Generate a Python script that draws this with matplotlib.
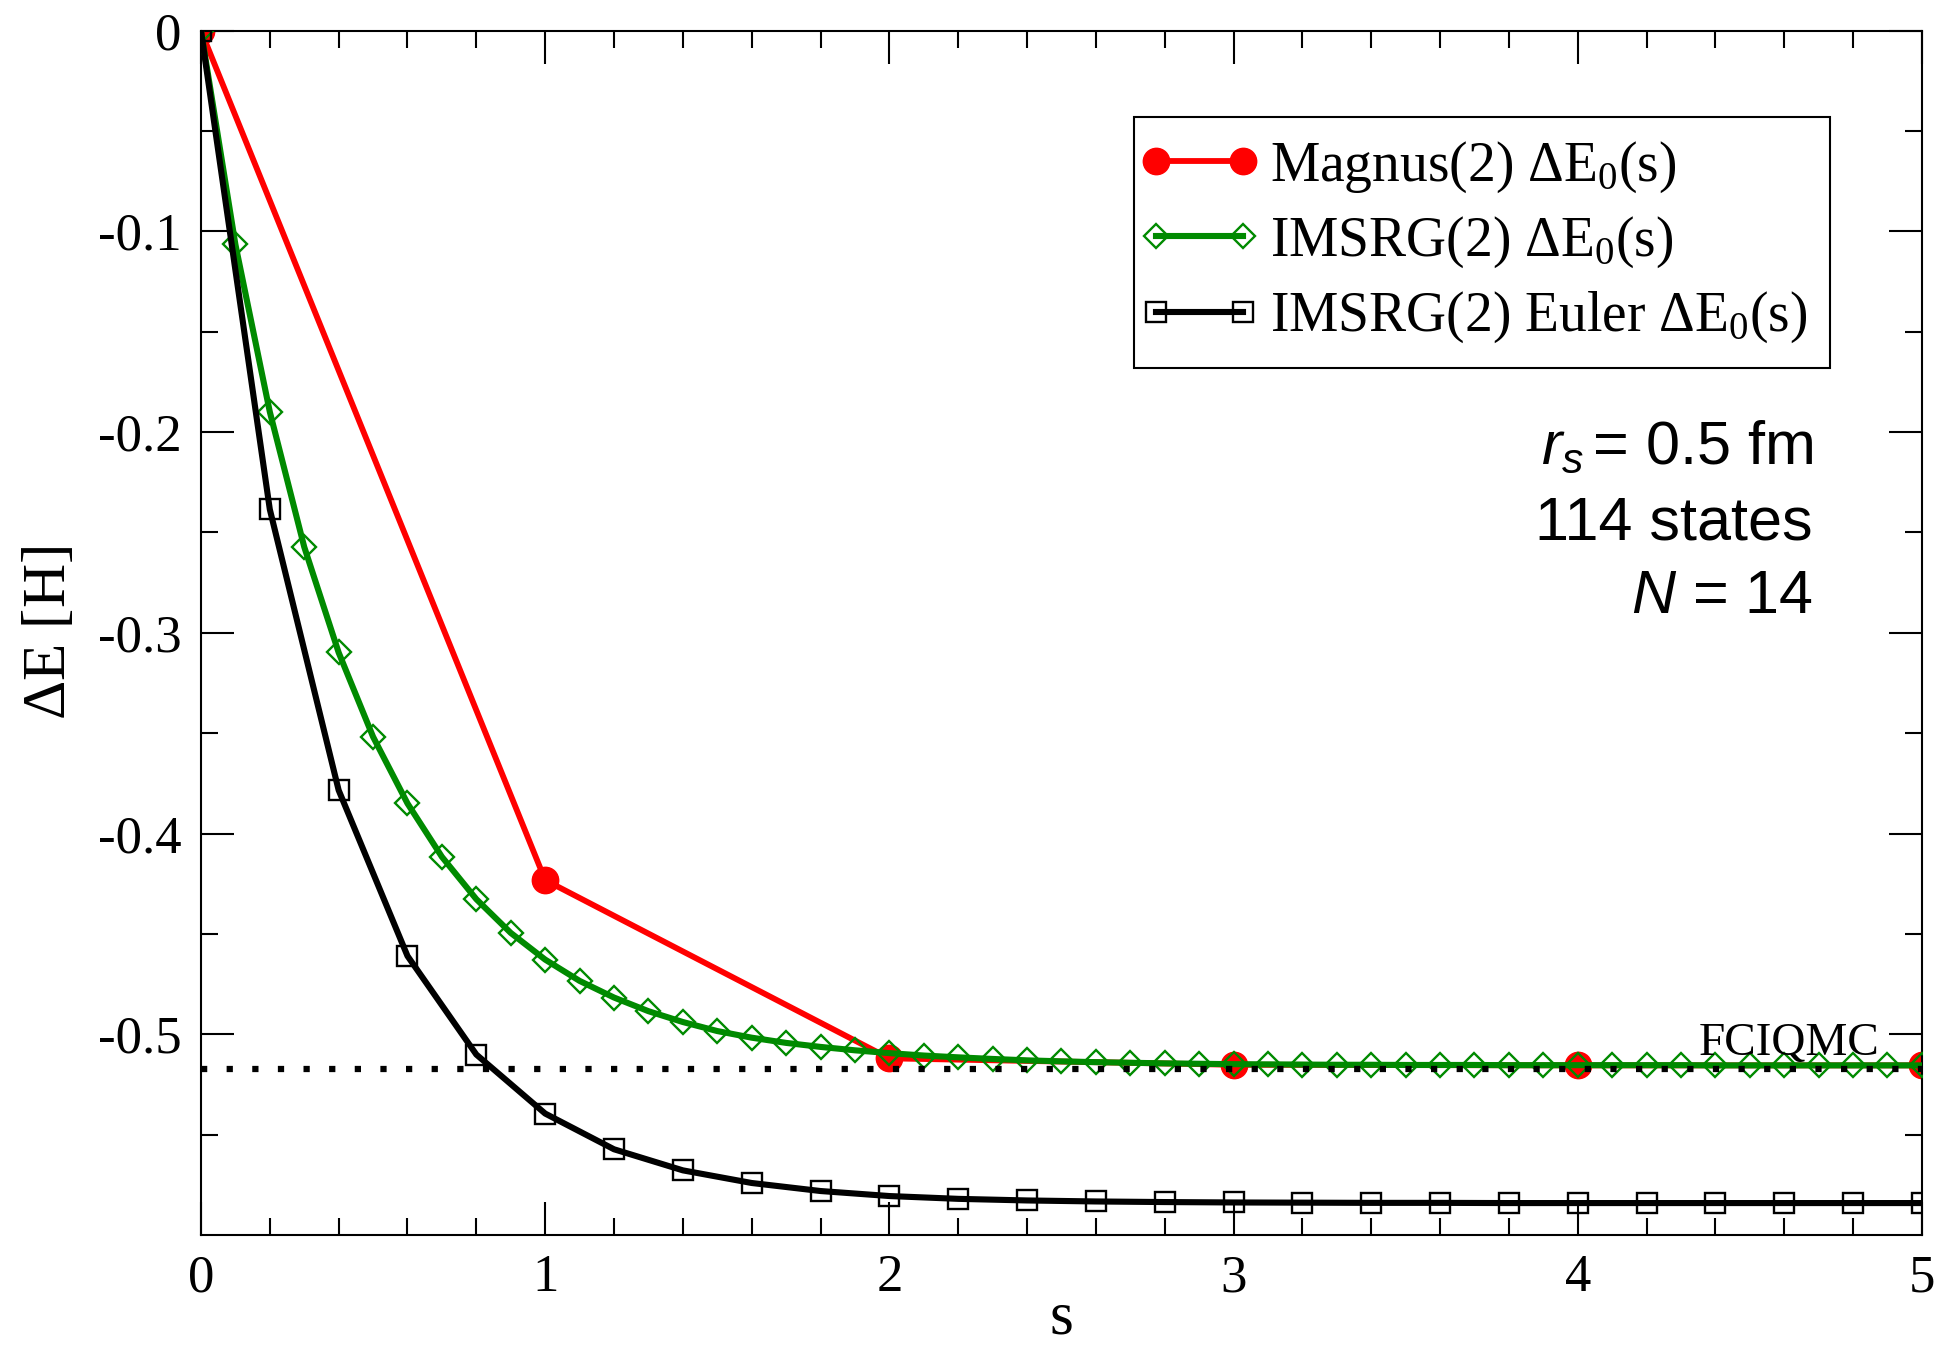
import numpy as np
import matplotlib
matplotlib.use('Agg')
import matplotlib.pyplot as plt
from matplotlib.lines import Line2D
from matplotlib.legend_handler import HandlerLine2D
from matplotlib.ticker import MultipleLocator, FixedLocator, FuncFormatter

plt.rcParams['font.family'] = 'Liberation Serif'
plt.rcParams['mathtext.fontset'] = 'custom'
plt.rcParams['mathtext.rm'] = 'Liberation Serif'
plt.rcParams['mathtext.it'] = 'Liberation Sans:italic'
plt.rcParams['axes.unicode_minus'] = False

# Magnus(2) flow, evaluated at integer s
s_magnus = [0, 1, 2, 3, 4, 5]
e_magnus = [0.0, -0.4232, -0.5120, -0.5152, -0.5155, -0.5155]

# IMSRG(2) flow, ds = 0.1
s_imsrg = np.round(np.arange(0, 5.05, 0.1), 1)
e_imsrg = [0.0, -0.1065, -0.1899, -0.2572, -0.3098, -0.3518, -0.3850, -0.4116,
           -0.4327, -0.4495, -0.4628, -0.4734, -0.4817, -0.4885, -0.4939, -0.4984,
           -0.5017, -0.5043, -0.5063, -0.5080, -0.5094, -0.5106, -0.5115, -0.5123,
           -0.5130, -0.5135, -0.5139, -0.5142, -0.5145, -0.5147, -0.5149, -0.5150,
           -0.5151, -0.5152, -0.5152, -0.5153, -0.5153, -0.5153, -0.5154, -0.5154,
           -0.5154, -0.5154, -0.5154, -0.5154, -0.5155, -0.5155, -0.5155, -0.5155,
           -0.5155, -0.5155, -0.5155]

# IMSRG(2) with Euler steps, ds = 0.2
s_euler = np.round(np.arange(0, 5.05, 0.2), 1)
e_euler = [0.0, -0.2385, -0.3784, -0.4610, -0.5101, -0.5395, -0.5573, -0.5678,
           -0.5741, -0.5781, -0.5806, -0.5820, -0.5828, -0.5833, -0.5836, -0.5838,
           -0.5839, -0.5840, -0.5840, -0.5841, -0.5841, -0.5841, -0.5841, -0.5841,
           -0.5841, -0.5841]

# reference value
e_fciqmc = -0.5171

labels = [r'Magnus(2) $\Delta$E$_0$(s)',
          r'IMSRG(2) $\Delta$E$_0$(s)',
          r'IMSRG(2) Euler $\Delta$E$_0$(s)']

fig = plt.figure(figsize=(19.38, 13.45), dpi=100)
ax = fig.add_axes([0.1037, 0.0818, 0.8880, 0.8954])

ax.plot(s_magnus, e_magnus, color='red', lw=4.2, marker='o', ms=19,
        mfc='red', mec='red', label=labels[0], zorder=2)
ax.plot(s_imsrg, e_imsrg, color='#008a00', lw=4.4, marker='D', ms=12.5,
        mfc='none', mec='#008a00', mew=1.7, label=labels[1], zorder=3)
ax.plot(s_euler, e_euler, color='black', lw=4.4, marker='s', ms=15,
        mfc='none', mec='black', mew=1.7, label=labels[2], zorder=4)
ax.plot([0, 5], [e_fciqmc, e_fciqmc], color='black', lw=4.5,
        dashes=(1, 3.1), dash_capstyle='butt', zorder=5)
ax.text(4.878, -0.5105, 'FCIQMC', fontsize=34, ha='right', va='baseline')

ax.set_xlim(0, 5)
ax.set_ylim(-0.6, 0)
ax.xaxis.set_major_locator(MultipleLocator(1))
ax.xaxis.set_minor_locator(MultipleLocator(0.2))
ax.yaxis.set_major_locator(FixedLocator([-0.5, -0.4, -0.3, -0.2, -0.1, 0.0]))
ax.yaxis.set_minor_locator(FixedLocator([-0.55, -0.45, -0.35, -0.25, -0.15, -0.05]))
ax.yaxis.set_major_formatter(FuncFormatter(lambda v, p: '%g' % round(v, 2)))
ax.xaxis.set_major_formatter(FuncFormatter(lambda v, p: '%g' % v))

ax.tick_params(which='both', direction='in', top=True, right=True,
               width=1.5, colors='black')
ax.tick_params(which='major', length=24, labelsize=38)
ax.tick_params(which='minor', length=12)
ax.tick_params(axis='x', which='major', pad=14)
ax.tick_params(axis='y', which='major', pad=14)
for sp in ax.spines.values():
    sp.set_linewidth(1.5)

ax.set_xlabel('s', fontsize=44, labelpad=-8)
ax.set_ylabel(r'$\Delta$E [H]', fontsize=44, labelpad=14)

# legend markers sit right at the ends of the handle line
leg = ax.legend(loc='upper right', bbox_to_anchor=(0.9466, 0.9283),
                borderaxespad=0, fontsize=40, numpoints=2, handlelength=1.55,
                handletextpad=0.5, borderpad=0.4, labelspacing=0.36,
                fancybox=False, framealpha=1, edgecolor='black',
                handler_map={Line2D: HandlerLine2D(marker_pad=0.0)})
leg.get_frame().set_linewidth(1.5)

# run parameters
ax.text(0.9367, 0.6407, r'$r_s\,$= 0.5 fm', transform=ax.transAxes,
        family='Liberation Sans', fontsize=44, ha='right', va='baseline')
ax.text(0.9367, 0.5771, '114 states', transform=ax.transAxes,
        family='Liberation Sans', fontsize=44, ha='right', va='baseline')
ax.text(0.9367, 0.5164, r'$N$ = 14', transform=ax.transAxes,
        family='Liberation Sans', fontsize=44, ha='right', va='baseline')

fig.savefig('out.png', dpi=100)
